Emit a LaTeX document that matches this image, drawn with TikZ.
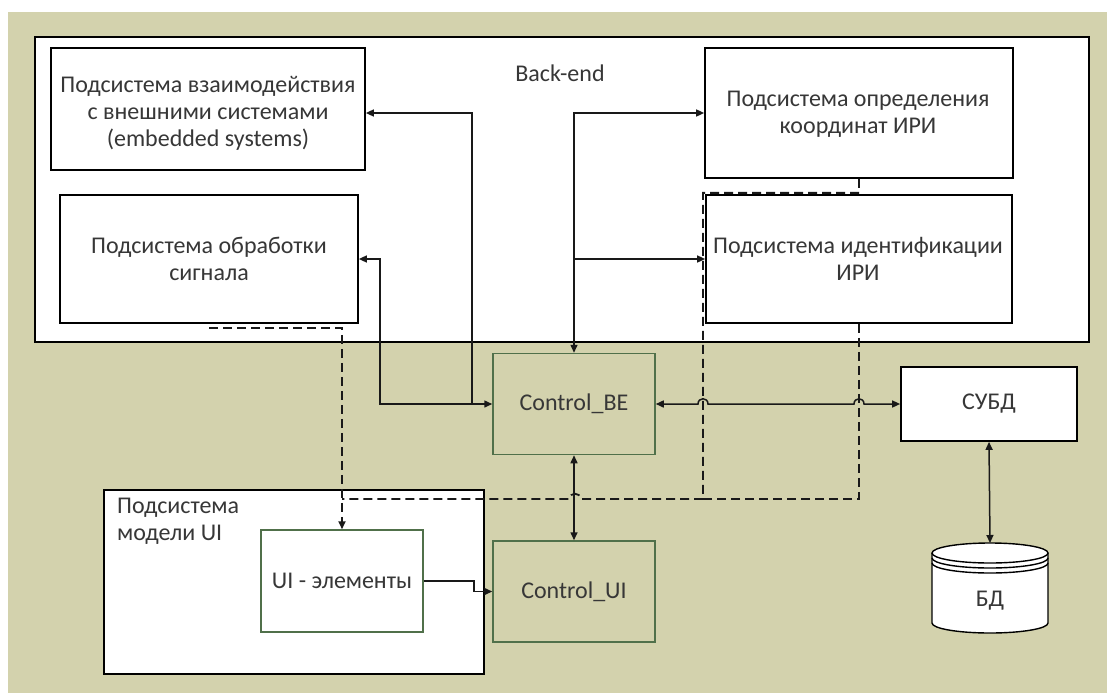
\documentclass[tikz,border=0pt]{standalone}
\usepackage{fontspec}
\setmainfont{Carlito}
\usetikzlibrary{arrows.meta,calc}
\definecolor{olivebg}{RGB}{211,210,173}
\definecolor{boxgreen}{RGB}{80,112,74}
\definecolor{ink}{RGB}{55,55,55}
\definecolor{wire}{RGB}{25,25,25}

\begin{document}
\begin{tikzpicture}[x=1pt,y=-1pt,
  every node/.style={font=\fontsize{24}{27}\selectfont, text=ink, align=center, inner sep=0pt},
  sysbox/.style={draw=black, line width=1.7pt, fill=white},
  ctlbox/.style={draw=boxgreen, line width=1.5pt},
  conn/.style={draw=wire, line width=1.5pt, >={Triangle[length=8pt,width=7pt]}},
  dconn/.style={conn, line width=1.8pt, dash pattern=on 9pt off 5pt}]

\useasboundingbox (0,0) rectangle (1107,693);
\fill[white] (0,0) rectangle (1107,693);
\fill[olivebg] (8,12) rectangle (1107,693);

% back-end container and its subsystems
\node[sysbox, minimum width=1054pt, minimum height=305pt] (be) at (562,189.5) {};
\node (belabel) at (560,73) {Back-end};
\node[sysbox, minimum width=314pt, minimum height=122pt] (b1) at (208,109) {};
\node (t1) at (208,113) {Подсистема взаимодействия\\с внешними системами\\(embedded systems)};
\node[sysbox, minimum width=298pt, minimum height=128pt] (b2) at (209,259) {};
\node (t2) at (209,259) {Подсистема обработки\\сигнала};
\node[sysbox, minimum width=308pt, minimum height=130pt] (b3) at (859,113) {};
\node (t3) at (858,114) {Подсистема определения\\координат ИРИ};
\node[sysbox, minimum width=306pt, minimum height=128pt] (b4) at (859,259) {};
\node (t4) at (858,259) {Подсистема идентификации\\ИРИ};

% controllers and storage
\node[ctlbox, minimum width=162pt, minimum height=101pt] (cbe) at (574,404) {Control\_BE};
\node[ctlbox, minimum width=162pt, minimum height=101pt] (cui) at (574,591.5) {Control\_UI};
\node[sysbox, minimum width=176pt, minimum height=74pt] (subd) at (989,404) {СУБД};

% UI model container
\node[sysbox, minimum width=380pt, minimum height=184pt] (uim) at (294,582) {};
\node[anchor=north west, align=left] (uimlabel) at (117,498) {Подсистема\\модели UI};
\node[ctlbox, fill=white, minimum width=162pt, minimum height=102pt] (uie) at (342,581) {UI - элементы};

% database cylinder
\coordinate (dbtop) at (990,543);
\filldraw[draw=black, line width=1.4pt, fill=white]
  (932,553) -- (932,623) arc[start angle=180, end angle=360, x radius=58pt, y radius=10pt] -- (1048,553);
\filldraw[draw=black, line width=1.4pt, fill=white] (990,553) ellipse[x radius=58pt, y radius=10pt];
\draw[black, line width=1.4pt] (932,558) arc[start angle=180, end angle=360, x radius=58pt, y radius=10pt];
\draw[black, line width=1.4pt] (932,563) arc[start angle=180, end angle=360, x radius=58pt, y radius=10pt];
\node (db) at (990,601) {БД};

% solid connectors
\draw[conn,<->] (b2.east) -- ++(21,0) |- (cbe.west);
\draw[conn,<-] ([yshift=-4pt]b1.east) -| (cbe.west -| 472,0);
\draw[conn,<->] (b3.west) -| (cbe.north);
\draw[conn,->] (cbe.north |- b4.west) -- (b4.west);
\draw[conn,<->] (cbe.east) -- (698,404) .. controls (698,397) and (708,397) .. (708,404)
  -- (854,404) .. controls (854,397) and (864,397) .. (864,404) -- (subd.west);
\draw[conn,<->] (cbe.south) -- (cui.north);
\draw[conn,<->] (subd.south) -- (dbtop);
\draw[conn,->] (uie.east) -- ++(50,0) |- (cui.west);

% dashed links into the UI elements
\draw[dconn,->] ([yshift=-4pt]b2.south) -| (uie.north);
\draw[dconn] (b3.south) -- ++(0,14) -| (703,499) -- (581,499)
  .. controls (580,492) and (570,492) .. (569,499) -- (uie.north |- 0,499);
\draw[dconn] (b4.south) |- (703,499);
\end{tikzpicture}
\end{document}
